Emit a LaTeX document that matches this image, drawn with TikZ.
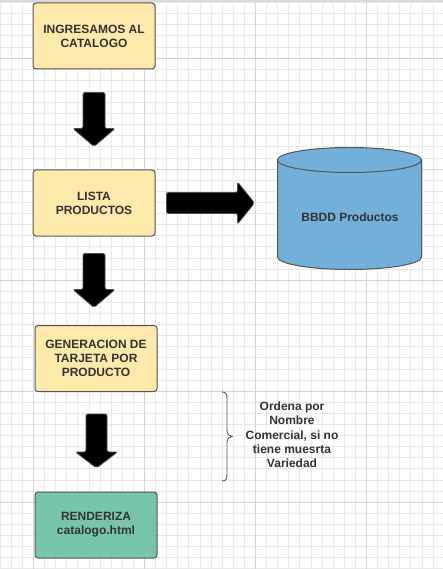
\documentclass[tikz,border=0pt]{standalone}
\usepackage{fontspec}
\setmainfont{Liberation Sans}
\usetikzlibrary{calc}
\definecolor{boxyellow}{HTML}{FDE9A9}
\definecolor{boxblue}{HTML}{67AAD6}
\definecolor{boxteal}{HTML}{6ABFA6}
\definecolor{edgegray}{HTML}{555555}
\definecolor{txtgray}{HTML}{333333}
\definecolor{gridminor}{HTML}{E8E8E8}
\definecolor{gridmajor}{HTML}{D4D4D4}
\tikzset{
  stepbox/.style={draw=edgegray, line width=1pt, rounded corners=3pt,
    minimum width=122pt, minimum height=66pt, align=center, inner sep=2pt,
    text=txtgray, font=\fontsize{12}{14}\selectfont\bfseries},
  lbl/.style={align=center, text=txtgray, font=\fontsize{12}{14.3}\selectfont\bfseries},
  blockarrow/.style={fill=black, draw=black!70, line width=0.8pt, rounded corners=2pt},
}
\begin{document}
\begin{tikzpicture}[x=1pt,y=-1pt]
\useasboundingbox (0,0) rectangle (443,569);
\fill[white] (0,0) rectangle (443,569);
% grid
\foreach \k in {0,...,40} {
  \draw[gridminor, line width=0.6pt] ({11.1*\k},0) -- ({11.1*\k},569);
}
\foreach \k in {0,...,51} {
  \draw[gridminor, line width=0.6pt] (0,{2.5+11.1*\k}) -- (443,{2.5+11.1*\k});
}
\foreach \k in {0,...,3} {
  \draw[gridmajor, line width=0.7pt] ({33.3+111*\k},0) -- ({33.3+111*\k},569);
}
\foreach \k in {0,...,4} {
  \draw[gridmajor, line width=0.7pt] (0,{58+111*\k}) -- (443,{58+111*\k});
}
\fill[gray!30] (0,0) rectangle (443,2.5);

% boxes
\node[stepbox, fill=boxyellow] (b1) at (94,36) {INGRESAMOS AL\\CATALOGO};
\node[stepbox, fill=boxyellow] (b2) at (94,203) {LISTA\\PRODUCTOS};
\node[stepbox, fill=boxyellow] (b3) at (96,358.5) {GENERACION DE\\TARJETA POR\\PRODUCTO};
\node[stepbox, fill=boxteal, fill opacity=0.9, text opacity=1] (b4) at (96,525) {RENDERIZA\\catalogo.html};

% database cylinder
\fill[boxblue, fill opacity=0.92] (277.5,160) -- (277.5,257) arc[start angle=180, end angle=360, x radius=72, y radius=-12.5] -- (421.5,160) arc[start angle=0, end angle=180, x radius=72, y radius=-12.5] -- cycle;
\draw[edgegray, line width=1pt] (277.5,160) -- (277.5,257) arc[start angle=180, end angle=360, x radius=72, y radius=-12.5] -- (421.5,160);
\draw[edgegray, line width=1pt] (349.5,160) ellipse[x radius=72, y radius=12.5];
\node[lbl] (db) at (350,217) {BBDD Productos};

% block arrows
\coordinate (a1) at ($(b1.south)+(0,23)$);
\draw[blockarrow] ($(a1)+(-11,0)$) -- ($(a1)+(11,0)$) -- ($(a1)+(11,36)$) -- ($(a1)+(21,36)$) -- ($(a1)+(0,54)$) -- ($(a1)+(-21,36)$) -- ($(a1)+(-11,36)$) -- cycle;
\coordinate (a2) at ($(b2.south)+(0,17)$);
\draw[blockarrow] ($(a2)+(-11,0)$) -- ($(a2)+(11,0)$) -- ($(a2)+(11,36)$) -- ($(a2)+(21,36)$) -- ($(a2)+(0,54)$) -- ($(a2)+(-21,36)$) -- ($(a2)+(-11,36)$) -- cycle;
\coordinate (a3) at ($(b3.south)+(0.5,22)$);
\draw[blockarrow] ($(a3)+(-10.5,0)$) -- ($(a3)+(10.5,0)$) -- ($(a3)+(10.5,38)$) -- ($(a3)+(21,38)$) -- ($(a3)+(0,54)$) -- ($(a3)+(-21,38)$) -- ($(a3)+(-10.5,38)$) -- cycle;
\coordinate (ah) at ($(b2.east)+(11,0)$);
\draw[blockarrow] ($(ah)+(0,-10.5)$) -- ($(ah)+(71,-10.5)$) -- ($(ah)+(71,-21)$) -- ($(ah)+(88,0)$) -- ($(ah)+(71,21)$) -- ($(ah)+(71,10.5)$) -- ($(ah)+(0,10.5)$) -- cycle;

% brace and note
\draw[edgegray, line width=0.9pt] (222,392) .. controls (226,392) and (227,394) .. (227,399)
  -- (227,430) .. controls (227,434) and (229,436.5) .. (232,436.5)
  .. controls (229,436.5) and (227,439) .. (227,443)
  -- (227,474) .. controls (227,479) and (226,481) .. (222,481);
\node[lbl] (note) at (292,435) {Ordena por\\Nombre\\Comercial, si no\\tiene muesrta\\Variedad};
\end{tikzpicture}
\end{document}
